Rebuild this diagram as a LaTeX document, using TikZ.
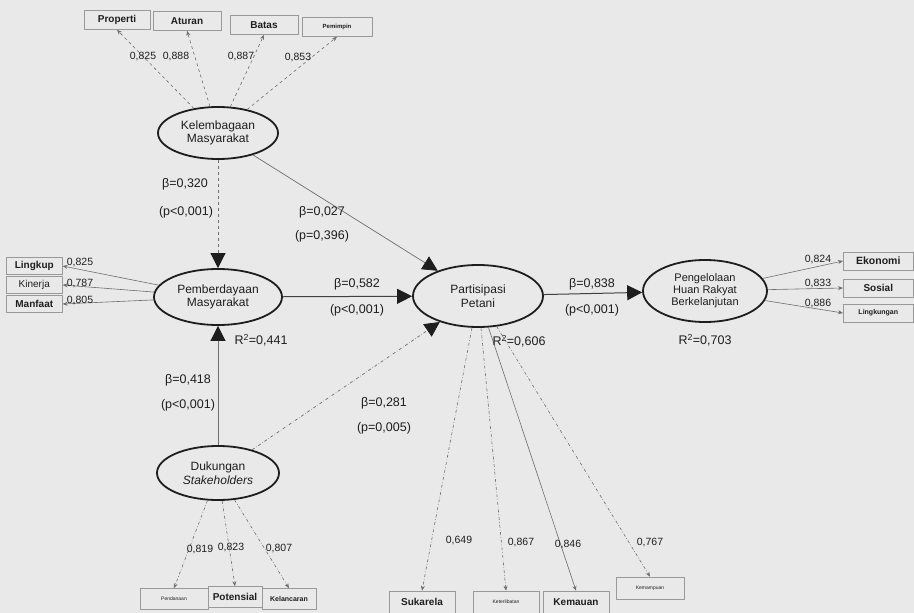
\documentclass[tikz,border=0pt]{standalone}
\usepackage{fontspec}
\setmainfont{Liberation Sans}
\usetikzlibrary{shapes.geometric,arrows.meta}
\definecolor{bgc}{RGB}{233,233,233}
\definecolor{ink}{RGB}{30,30,30}
\definecolor{ln}{RGB}{110,110,110}
\tikzset{
  lv/.style={ellipse,draw=ink,line width=1.8pt,inner sep=0pt,align=center,font=\fontsize{12}{13.5}\selectfont,text=ink},
  ind/.style={draw=ln!70,line width=0.6pt,inner sep=2pt,font=\bfseries\fontsize{10}{12}\selectfont,text=ink,minimum height=19pt},
  lab/.style={inner sep=0pt,font=\fontsize{12.5}{14}\selectfont,text=ink},
  num/.style={inner sep=0pt,font=\fontsize{10.5}{12}\selectfont,text=ink},
  big/.style={-{Triangle[length=15pt,width=15pt,color=ink]}},
  lnk/.style={-{Stealth[length=5pt,width=4pt]},ln,line width=0.6pt},
}
\begin{document}
\begin{tikzpicture}[x=1pt,y=-1pt]
\fill[bgc] (0,0) rectangle (914,613);
\useasboundingbox (0,0) rectangle (914,613);
% latent variables
\node[lv,minimum width=120pt,minimum height=52pt] (KM) at (218,133) {Kelembagaan\\Masyarakat};
\node[lv,minimum width=128pt,minimum height=56pt] (PM) at (218,297) {Pemberdayaan\\Masyarakat};
\node[lv,minimum width=130pt,minimum height=62pt] (PP) at (478,296) {Partisipasi\\Petani};
\node[lv,minimum width=124pt,minimum height=62pt,font=\fontsize{11}{12}\selectfont] (PH) at (705,291) {Pengelolaan\\Huan Rakyat\\Berkelanjutan};
\node[lv,minimum width=122pt,minimum height=54pt] (DS) at (218,473) {Dukungan\\\textit{Stakeholders}};
% top indicators
\node[ind,minimum width=66pt] (prop) at (117,20) {Properti};
\node[ind,minimum width=68pt] (atur) at (187,21) {Aturan};
\node[ind,minimum width=68pt] (bata) at (264,25) {Batas};
\node[ind,minimum width=70pt,font=\bfseries\fontsize{6}{7}\selectfont] (pemi) at (337,27) {Pemimpin};
% left indicators
\node[ind,minimum width=56pt,minimum height=17pt,anchor=west] (ling) at (6,266) {Lingkup};
\node[ind,minimum width=56pt,minimum height=17pt,anchor=west,font=\fontsize{10}{12}\selectfont] (kine) at (6,285) {Kinerja};
\node[ind,minimum width=56pt,minimum height=17pt,anchor=west] (manf) at (6,304) {Manfaat};
% right indicators
\node[ind,minimum width=70pt,minimum height=18pt,anchor=west,font=\bfseries\fontsize{10.5}{12}\selectfont] (ekon) at (843,261) {Ekonomi};
\node[ind,minimum width=70pt,minimum height=18pt,anchor=west] (sosi) at (843,288) {Sosial};
\node[ind,minimum width=70pt,minimum height=18pt,anchor=west,font=\bfseries\fontsize{7}{8}\selectfont] (lgk) at (843,313) {Lingkungan};
% bottom-left indicators
\node[ind,minimum width=68pt,minimum height=21pt,font=\fontsize{5}{6}\selectfont] (pend) at (174,599) {Pendanaan};
\node[ind,minimum width=54pt,minimum height=21pt] (pote) at (235,597) {Potensial};
\node[ind,minimum width=54pt,minimum height=21pt,font=\bfseries\fontsize{7}{8}\selectfont] (kela) at (289,599) {Kelancaran};
% bottom indicators of Partisipasi
\node[ind,minimum width=66pt,minimum height=22pt] (suka) at (422,602) {Sukarela};
\node[ind,minimum width=66pt,minimum height=22pt,font=\fontsize{5}{6}\selectfont] (kete) at (506,602) {Keterlibatan};
\node[ind,minimum width=66pt,minimum height=22pt] (kema) at (576,602) {Kemauan};
\node[ind,minimum width=68pt,minimum height=22pt,font=\fontsize{5}{6}\selectfont] (kemp) at (650,588) {Kemampuan};
% indicator links
\draw[lnk,dashed] (KM) -- (prop.south);
\draw[lnk,dashed] (KM) -- (atur.south);
\draw[lnk,dashed] (KM) -- (bata.south);
\draw[lnk,dashed] (KM) -- (pemi.south);
\draw[lnk] (PM) -- (ling.east);
\draw[lnk] (PM) -- (kine.east);
\draw[lnk] (PM) -- (manf.east);
\draw[lnk] (PH) -- (ekon.west);
\draw[lnk] (PH) -- (sosi.west);
\draw[lnk] (PH) -- (lgk.west);
\draw[lnk,dash dot] (DS) -- (pend.north);
\draw[lnk,dash dot] (DS) -- (pote.north);
\draw[lnk,dash dot] (DS) -- (kela.north);
\draw[lnk,dash dot] (PP) -- (suka.north);
\draw[lnk,dash dot] (PP) -- (kete.north);
\draw[lnk] (PP) -- (kema.north);
\draw[lnk,dash dot] (PP) -- (kemp.north);
% loadings
\node[num] (l1) at (143,57) {0,825};
\node[num] (l2) at (176,57) {0,888};
\node[num] (l3) at (241,57) {0,887};
\node[num] (l4) at (298,58) {0,853};
\node[num] (l5) at (80,263) {0,825};
\node[num] (l6) at (80,284) {0,787};
\node[num] (l7) at (80,301) {0,805};
\node[num] (l8) at (818,260) {0,824};
\node[num] (l9) at (818,284) {0,833};
\node[num] (l10) at (818,304) {0,886};
\node[num] (l11) at (200,550) {0,819};
\node[num] (l12) at (231,548) {0,823};
\node[num] (l13) at (279,549) {0,807};
\node[num] (l14) at (459,541) {0,649};
\node[num] (l15) at (521,543) {0,867};
\node[num] (l16) at (568,545) {0,846};
\node[num] (l17) at (650,543) {0,767};
% structural paths
\draw[big,ln,dashed,line width=0.7pt] (KM) -- (PM);
\draw[big,ln,line width=0.7pt] (KM) -- (PP);
\draw[big,ink!85,line width=1pt] (PM) -- (PP);
\draw[big,ln,line width=0.7pt] (DS) -- (PM);
\draw[big,ln,dash dot,line width=0.7pt] (DS) -- (PP);
\draw[big,ink!85,line width=1pt] (PP) -- (PH);
% path labels
\node[lab] (b1) at (185,184) {β=0,320};
\node[lab] (p1) at (186,212) {(p<0,001)};
\node[lab] (b2) at (322,212) {β=0,027};
\node[lab] (p2) at (322,236) {(p=0,396)};
\node[lab] (b3) at (357,284) {β=0,582};
\node[lab] (p3) at (357,310) {(p<0,001)};
\node[lab] (b4) at (188,380) {β=0,418};
\node[lab] (p4) at (188,405) {(p<0,001)};
\node[lab] (b5) at (384,403) {β=0,281};
\node[lab] (p5) at (384,428) {(p=0,005)};
\node[lab] (b6) at (592,284) {β=0,838};
\node[lab] (p6) at (592,310) {(p<0,001)};
\node[lab] (r1) at (261,340) {R\textsuperscript{2}=0,441};
\node[lab] (r2) at (519,341) {R\textsuperscript{2}=0,606};
\node[lab] (r3) at (705,340) {R\textsuperscript{2}=0,703};
\end{tikzpicture}
\end{document}
